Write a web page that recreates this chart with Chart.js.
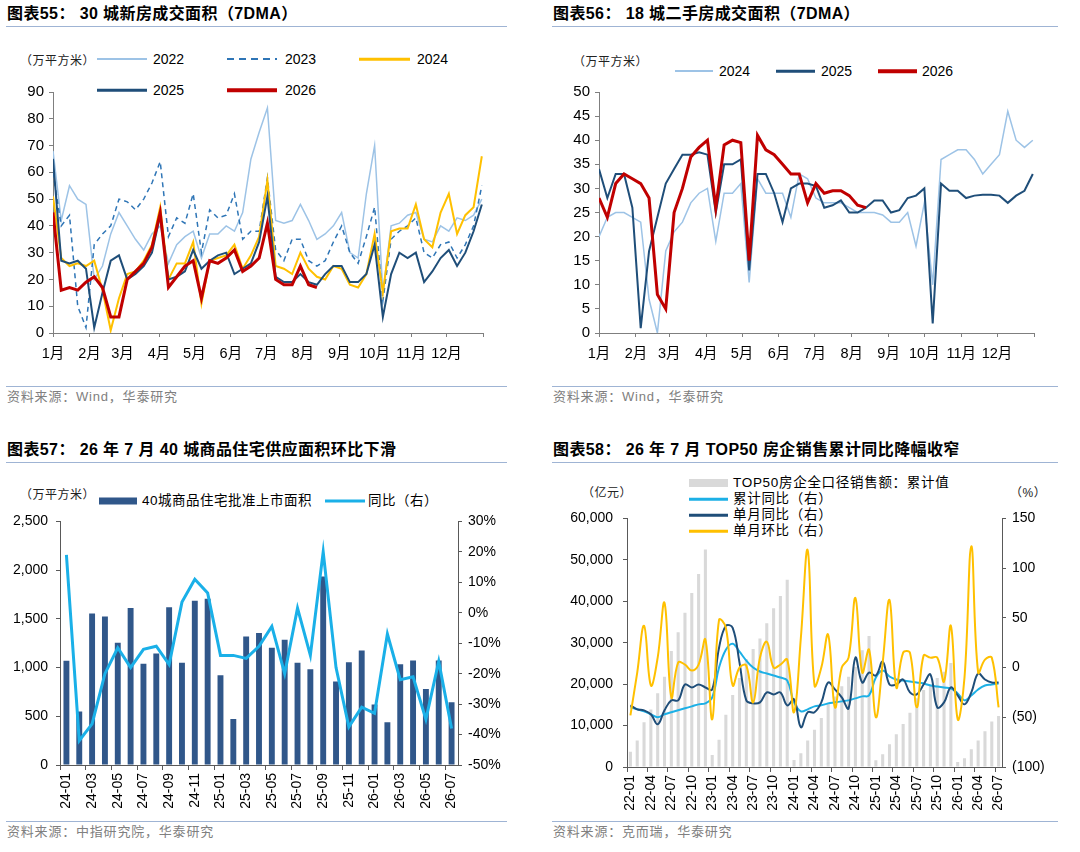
<!DOCTYPE html>
<html>
<head>
<meta charset="utf-8">
<script src="https://cdn.jsdelivr.net/npm/chart.js@4.4.1/dist/chart.umd.min.js"></script>
<style>
  body { margin: 0; width: 1080px; height: 852px; background: #fff; position: relative; overflow: hidden;
         font-family: "Liberation Sans", Arial, "Noto Sans CJK SC", sans-serif; color: #000; }
  .t { position: absolute; font-weight: bold; font-size: 16px; line-height: 18px; letter-spacing: 0.4px; white-space: nowrap; }
  .rule { position: absolute; height: 0; border-top: 1.5px solid #9fb4d4; }
  .src { position: absolute; font-size: 13px; line-height: 16px; color: #808080; letter-spacing: 0.8px; white-space: nowrap; }
  .lg { position: absolute; font-size: 14px; line-height: 16px; transform: translateY(-50%); white-space: nowrap; }
  .unit { position: absolute; font-size: 12px; line-height: 16px; transform: translateY(-50%); white-space: nowrap; color: #222; letter-spacing: 0.5px; }
  .sw { position: absolute; transform: translateY(-50%); }
  .box { position: absolute; }
</style>
</head>
<body>

<div class="t" style="left:7px;top:5px">图表55：&nbsp;30 城新房成交面积（7DMA）</div>
<div class="rule" style="left:6px;top:26px;width:501px"></div>
<div class="t" style="left:553px;top:5px">图表56：&nbsp;18 城二手房成交面积（7DMA）</div>
<div class="rule" style="left:552px;top:26px;width:506px"></div>

<div class="rule" style="left:6px;top:386px;width:501px"></div>
<div class="src" style="left:7px;top:389px">资料来源：Wind，华泰研究</div>
<div class="rule" style="left:552px;top:386px;width:506px"></div>
<div class="src" style="left:553px;top:389px">资料来源：Wind，华泰研究</div>

<div class="t" style="left:7px;top:441px">图表57：&nbsp;26 年 7 月 40 城商品住宅供应面积环比下滑</div>
<div class="rule" style="left:6px;top:462px;width:501px"></div>
<div class="t" style="left:553px;top:441px">图表58：&nbsp;26 年 7 月 TOP50 房企销售累计同比降幅收窄</div>
<div class="rule" style="left:552px;top:462px;width:506px"></div>

<div class="rule" style="left:6px;top:821px;width:501px"></div>
<div class="src" style="left:7px;top:824px">资料来源：中指研究院，华泰研究</div>
<div class="rule" style="left:552px;top:821px;width:506px"></div>
<div class="src" style="left:553px;top:824px">资料来源：克而瑞，华泰研究</div>

<!-- legends, chart 55 -->
<div class="unit" style="left:20px;top:61px">（万平方米）</div>
<div class="sw" style="left:97px;top:59px;width:50px;height:2px;background:#9dc3e6"></div>
<div class="lg" style="left:153px;top:59px">2022</div>
<div class="sw" style="left:227px;top:59px;width:50px;height:2px;background:repeating-linear-gradient(90deg,#2e75b6 0 7px,transparent 7px 12px)"></div>
<div class="lg" style="left:285px;top:59px">2023</div>
<div class="sw" style="left:359px;top:59px;width:51px;height:2.5px;background:#ffc000"></div>
<div class="lg" style="left:417px;top:59px">2024</div>
<div class="sw" style="left:97px;top:90px;width:50px;height:2.5px;background:#1f4e79"></div>
<div class="lg" style="left:153px;top:90px">2025</div>
<div class="sw" style="left:227px;top:90px;width:50px;height:3.5px;background:#c00000"></div>
<div class="lg" style="left:285px;top:90px">2026</div>

<!-- legends, chart 56 -->
<div class="unit" style="left:573px;top:62px">（万平方米）</div>
<div class="sw" style="left:675px;top:71px;width:38px;height:2px;background:#9dc3e6"></div>
<div class="lg" style="left:719px;top:71px">2024</div>
<div class="sw" style="left:776px;top:71px;width:39px;height:2.5px;background:#1f4e79"></div>
<div class="lg" style="left:821px;top:71px">2025</div>
<div class="sw" style="left:878px;top:71px;width:39px;height:3.5px;background:#c00000"></div>
<div class="lg" style="left:922px;top:71px">2026</div>

<!-- legends, chart 57 -->
<div class="unit" style="left:20px;top:495px">（万平方米）</div>
<div class="sw" style="left:99px;top:501px;width:38px;height:7px;background:#30578a"></div>
<div class="lg" style="left:142px;top:501px;font-size:13.5px;letter-spacing:0.5px">40城商品住宅批准上市面积</div>
<div class="sw" style="left:325px;top:501px;width:40px;height:3px;background:#1ab0e8"></div>
<div class="lg" style="left:368px;top:501px;font-size:13.5px;letter-spacing:0.5px">同比（右）</div>

<!-- legends, chart 58 -->
<div class="unit" style="left:582px;top:493px">（亿元）</div>
<div class="unit" style="left:1010px;top:493px">（%）</div>
<div class="sw" style="left:689px;top:483px;width:39px;height:8px;background:#d9d9d9"></div>
<div class="lg" style="left:733px;top:483px;font-size:13.5px;letter-spacing:0.7px">TOP50房企全口径销售额：累计值</div>
<div class="sw" style="left:689px;top:499px;width:39px;height:2.5px;background:#1cb0e6"></div>
<div class="lg" style="left:733px;top:499px;font-size:13.5px;letter-spacing:0.7px">累计同比（右）</div>
<div class="sw" style="left:689px;top:515px;width:39px;height:2.5px;background:#1f4e79"></div>
<div class="lg" style="left:733px;top:515px;font-size:13.5px;letter-spacing:0.7px">单月同比（右）</div>
<div class="sw" style="left:689px;top:531px;width:39px;height:2.5px;background:#ffc000"></div>
<div class="lg" style="left:733px;top:531px;font-size:13.5px;letter-spacing:0.7px">单月环比（右）</div>

<div class="box" style="left:0;top:78px;width:520px;height:290px"><canvas id="c55"></canvas></div>
<div class="box" style="left:545px;top:78px;width:535px;height:290px"><canvas id="c56"></canvas></div>
<div class="box" style="left:0;top:505px;width:520px;height:315px"><canvas id="c57"></canvas></div>
<div class="box" style="left:545px;top:500px;width:535px;height:322px"><canvas id="c58"></canvas></div>

<script>
// month axis for the 7DMA charts (day of year)
const monthStarts = [0, 31, 59, 90, 120, 151, 181, 212, 243, 273, 304, 334, 365];
const monthLabels = ['1月', '2月', '3月', '4月', '5月', '6月', '7月', '8月', '9月', '10月', '11月', '12月', ''];

// 30城新房成交面积, weekly readings (万平方米)
const newHome2022 = [68, 42, 55, 50, 48, 20, 25, 37, 45, 40, 35, 31, 37, 40, 26, 33, 36, 38, 28, 37, 37, 40, 38, 45, 65, 75, 84,
  42, 41, 42, 48, 42, 35, 37, 40, 45, 30, 28, 52, 70, 15, 40, 41, 44, 45, 35, 34, 40, 38, 43, 42, 44, 50];
const newHome2023 = [60, 40, 44, 10, 2, 33, 37, 40, 50, 49, 46, 50, 56, 64, 36, 43, 41, 52, 30, 46, 43, 44, 52, 35, 38, 38, 58,
  31, 27, 35, 35, 27, 25, 27, 34, 40, 30, 26, 36, 47, 12, 35, 38, 40, 43, 30, 28, 33, 34, 28, 33, 40, 55];
const newHome2024 = [51, 28, 25, 26, 25, 27, 16, 1, 13, 22, 23, 27, 33, 47, 20, 26, 26, 34, 11, 27, 28, 29, 33, 24, 29, 36, 57,
  25, 24, 22, 30, 24, 21, 20, 25, 24, 18, 17, 22, 37, 15, 38, 39, 39, 48, 35, 32, 45, 52, 37, 44, 47, 66];
const newHome2025 = [65, 27, 26, 27, 24, 2, 15, 27, 29, 20, 22, 25, 30, 44, 20, 21, 23, 31, 24, 27, 29, 30, 22, 24, 26, 34, 51,
  21, 19, 19, 22, 19, 18, 22, 25, 25, 19, 19, 22, 33, 6, 22, 30, 28, 30, 19, 23, 28, 31, 25, 30, 38, 48];
const newHome2026 = [45, 16, 17, 16, 19, 21, 17, 6, 6, 20, 23, 26, 32, 45, 17, 21, 25, 27, 13, 27, 26, 28, 31, 23, 25, 28, 41,
  20, 18, 18, 25, 18, 17];

// 18城二手房成交面积, weekly readings (万平方米)
const resale2024 = [20, 24, 25, 25, 24, 23, 7, 0, 17, 21, 23, 27, 29, 30, 19, 29, 29, 31, 10.5, 32, 29, 29, 29, 24, 33, 32, 28,
  27, 27, 27, 26, 25, 25, 25, 24.5, 23, 23, 25, 18, 27, 10, 36, 37, 38, 38, 36, 33, 35, 37, 46, 40, 38.5, 40];
const resale2025 = [34, 28, 33, 33, 26, 1, 17, 24, 31, 34, 37, 37, 37.5, 37, 25, 35, 35, 36, 13, 33, 33, 29, 23, 30, 31, 31, 30.5,
  26, 26.5, 27.5, 25, 25, 26, 27.5, 27.5, 25, 25.5, 28, 28.5, 30, 2, 31, 29.5, 29.5, 28, 28.5, 28.7, 28.7, 28.5, 27, 28.5, 29.5, 33];
const resale2026 = [28, 24, 31, 33, 32, 31, 28, 8, 5, 25, 30, 36.5, 38.5, 40, 26, 39, 40, 39.5, 15, 41, 38, 37, 35, 33, 33, 27, 31,
  29, 29.5, 29.5, 28.5, 26.5, 26];

// 40城商品住宅批准上市面积 (万平方米) and 同比 (%)
const supplyMonths = ['24-01', '24-02', '24-03', '24-04', '24-05', '24-06', '24-07', '24-08', '24-09', '24-10', '24-11', '24-12',
  '25-01', '25-02', '25-03', '25-04', '25-05', '25-06', '25-07', '25-08', '25-09', '25-10', '25-11', '25-12',
  '26-01', '26-02', '26-03', '26-04', '26-05', '26-06', '26-07'];
const supplyArea = [1070, 550, 1555, 1525, 1255, 1610, 1040, 1145, 1620, 1050, 1685, 1705,
  920, 472, 1320, 1355, 1203, 1285, 1050, 982, 1935, 858, 1055, 1175,
  620, 440, 1033, 1073, 780, 1073, 643];
const supplyYoY = [19, -42, -36.5, -20, -11.5, -18, -12, -11, -17, 3.5, 11, 6.5,
  -14, -14, -15, -11, -4.5, -20, 1.5, -14, 20, -18, -37.5, -31,
  -33, -7, -22, -21, -35, -16, -38];

// TOP50房企: 累计销售额 (亿元) and ratios (%)
const top50Months = ['22-01', '22-02', '22-03', '22-04', '22-05', '22-06', '22-07', '22-08', '22-09', '22-10', '22-11', '22-12',
  '23-01', '23-02', '23-03', '23-04', '23-05', '23-06', '23-07', '23-08', '23-09', '23-10', '23-11', '23-12',
  '24-01', '24-02', '24-03', '24-04', '24-05', '24-06', '24-07', '24-08', '24-09', '24-10', '24-11', '24-12',
  '25-01', '25-02', '25-03', '25-04', '25-05', '25-06', '25-07', '25-08', '25-09', '25-10', '25-11', '25-12',
  '26-01', '26-02', '26-03', '26-04', '26-05', '26-06', '26-07'];
const top50Cum = [3700, 6400, 10800, 13900, 17800, 21800, 28000, 32500, 37200, 42000, 46600, 52500,
  2900, 6600, 12600, 17400, 21500, 26000, 28500, 31000, 34700, 38300, 41300, 45200,
  1700, 3300, 6400, 9000, 11800, 15500, 17000, 19500, 21800, 24200, 28200, 31600,
  1600, 3100, 5500, 7900, 10400, 13100, 16600, 18600, 20000, 21500, 23000, 25100,
  1200, 2100, 4300, 6400, 8600, 11000, 12300];
const top50CumYoY = [-40, -42, -44, -47, -50, -47, -45, -43, -41, -39, -37, -36,
  -30, 0, 18, 24, 16, 7, 0, -4, -6, -8, -10, -13,
  -35, -44, -42, -39, -38, -36, -35, -34, -33, -31, -29, -28,
  -10, -3, -9, -12, -13, -14, -15, -16, -18, -19, -20, -21,
  -26, -33, -28, -22, -18, -17, -16];
const top50MonthYoY = [-38, -42, -43, -47, -57, -43, -33, -33, -17, -20, -17, -20,
  -22, 20, 42, 40, 5, -33, -36, -35, -25, -27, -25, -38,
  -32, -60, -45, -45, -35, -15, -22, -30, -41, 10, -15, -5,
  -8, 6, -17, -17, -12, -25, -27, -17, -7, -40, -35, -20,
  -28, -37, -25, -6, -12, -15, -15];
const top50MoM = [-48, -5, 42, -18, 10, 65, -30, 5, 3, -3, 3, 28,
  -52, 48, 40, -18, 0, 2, -35, 10, 26, 0, 3, 8,
  -45, 30, 118, -18, 0, 33, -40, 0, 10, 70, -5, 18,
  -50, 5, 68, -20, 15, 15, -40, 12, 10, 10, -14, 42,
  -52, -10, 122, -5, 8, 10, -40];

const FONT = '"Liberation Sans", Arial, "Noto Sans CJK SC", sans-serif';
const AX = '#7f7f7f';
Chart.defaults.font.family = FONT;
Chart.defaults.font.size = 14;
Chart.defaults.color = '#000';
Chart.defaults.animation = false;
Chart.defaults.plugins.legend.display = false;
Chart.defaults.plugins.tooltip.enabled = false;
Chart.defaults.elements.point.radius = 0;

const weekly = vals => vals.map((v, i) => ({ x: i * 7, y: v }));

const dayAxis = {
  type: 'linear', min: 0, max: 365,
  afterBuildTicks: s => { s.ticks = monthStarts.map(v => ({ value: v })); },
  afterFit: s => { s.height = 35; },
  ticks: { autoSkip: false, maxRotation: 0, padding: 8, font: { size: 14.5 }, callback: (v, i) => monthLabels[i] },
  grid: { drawOnChartArea: false, tickLength: 4, color: AX },
  border: { color: AX }
};

const valueAxis = (max, step, width) => ({
  min: 0, max: max,
  afterFit: s => { s.width = width; },
  ticks: { stepSize: step, padding: 5, font: { size: 15 } },
  grid: { drawOnChartArea: false, tickLength: 4, color: AX },
  border: { color: AX }
});

const yearLine = (data, color, width, order, dash) => ({
  data: weekly(data), borderColor: color, borderWidth: width, order: order,
  borderDash: dash || [], tension: 0, pointRadius: 0
});

new Chart(document.getElementById('c55'), {
  type: 'line',
  data: {
    datasets: [
      yearLine(newHome2022, '#9dc3e6', 1.5, 4),
      yearLine(newHome2023, '#2e75b6', 1.5, 3, [5, 4]),
      yearLine(newHome2024, '#ffc000', 2, 2),
      yearLine(newHome2025, '#1f4e79', 2, 1),
      yearLine(newHome2026, '#c00000', 3, 0)
    ]
  },
  options: {
    responsive: true, maintainAspectRatio: false,
    layout: { padding: { top: 12, right: 37, left: 0, bottom: 0 } },
    scales: { x: dayAxis, y: valueAxis(90, 10, 53) }
  }
});

new Chart(document.getElementById('c56'), {
  type: 'line',
  data: {
    datasets: [
      yearLine(resale2024, '#9dc3e6', 1.5, 2),
      yearLine(resale2025, '#1f4e79', 2, 1),
      yearLine(resale2026, '#c00000', 3, 0)
    ]
  },
  options: {
    responsive: true, maintainAspectRatio: false,
    layout: { padding: { top: 12, right: 46, left: 0, bottom: 0 } },
    scales: { x: dayAxis, y: valueAxis(50, 5, 54) }
  }
});

const AX2 = '#595959';

new Chart(document.getElementById('c57'), {
  type: 'bar',
  data: {
    labels: supplyMonths,
    datasets: [
      { type: 'line', data: supplyYoY, yAxisID: 'y2', borderColor: '#1ab0e8', borderWidth: 3, tension: 0, order: 0 },
      { data: supplyArea, yAxisID: 'y', backgroundColor: '#30578a', barPercentage: 0.46, categoryPercentage: 1, order: 1 }
    ]
  },
  options: {
    responsive: true, maintainAspectRatio: false,
    layout: { padding: { top: 14, right: 0, left: 0, bottom: 0 } },
    scales: {
      x: {
        afterFit: s => { s.height = 55; },
        ticks: { autoSkip: false, minRotation: 90, maxRotation: 90, padding: 3,
                 callback: (v, i) => (i % 2 === 0 ? supplyMonths[i] : '') },
        grid: { drawOnChartArea: false, offset: true, tickLength: 5, color: c => (c.index % 2 === 0 ? AX2 : 'rgba(0,0,0,0)') },
        border: { color: AX2 }
      },
      y: {
        min: 0, max: 2500,
        afterFit: s => { s.width = 60; },
        ticks: { stepSize: 500, padding: 8, callback: v => v.toLocaleString('en-US') },
        grid: { drawOnChartArea: false, tickLength: 4, color: AX2 },
        border: { color: AX2 }
      },
      y2: {
        position: 'right', min: -50, max: 30,
        afterFit: s => { s.width = 62; },
        ticks: { stepSize: 10, padding: 6, callback: v => v + '%' },
        grid: { drawOnChartArea: false, tickLength: 4, color: AX2 },
        border: { color: AX2 }
      }
    }
  }
});

const smoothLine = (data, color, order) => ({
  type: 'line', data: data, yAxisID: 'y2', borderColor: color, borderWidth: 2, tension: 0.4, order: order
});

new Chart(document.getElementById('c58'), {
  type: 'bar',
  data: {
    labels: top50Months,
    datasets: [
      { data: top50Cum, yAxisID: 'y', backgroundColor: '#d9d9d9', barPercentage: 0.45, categoryPercentage: 1, order: 4 },
      smoothLine(top50CumYoY, '#1cb0e6', 2),
      smoothLine(top50MonthYoY, '#1f4e79', 1),
      smoothLine(top50MoM, '#ffc000', 0)
    ]
  },
  options: {
    responsive: true, maintainAspectRatio: false,
    layout: { padding: { top: 13, right: 0, left: 0, bottom: 0 } },
    scales: {
      x: {
        afterFit: s => { s.height = 55; },
        ticks: { autoSkip: false, minRotation: 90, maxRotation: 90, padding: 3,
                 callback: (v, i) => (i % 3 === 0 ? top50Months[i] : '') },
        grid: { drawOnChartArea: false, offset: true, tickLength: 5, color: c => (c.index % 3 === 0 ? AX2 : 'rgba(0,0,0,0)') },
        border: { color: AX2 }
      },
      y: {
        min: 0, max: 60000,
        afterFit: s => { s.width = 82; },
        ticks: { stepSize: 10000, padding: 10, callback: v => v.toLocaleString('en-US') },
        grid: { drawOnChartArea: false, tickLength: 4, color: AX2 },
        border: { color: AX2 }
      },
      y2: {
        position: 'right', min: -100, max: 150,
        afterFit: s => { s.width = 78; },
        ticks: { stepSize: 50, padding: 6, callback: v => (v < 0 ? '(' + (-v) + ')' : String(v)) },
        grid: { drawOnChartArea: false, tickLength: 4, color: AX2 },
        border: { color: AX2 }
      }
    }
  }
});
</script>
</body>
</html>
